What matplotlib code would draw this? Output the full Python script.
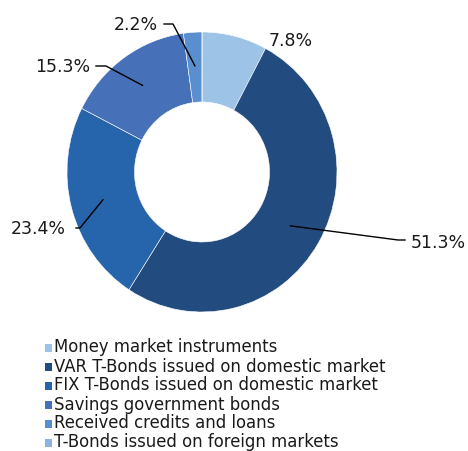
import matplotlib
matplotlib.use("Agg")
import matplotlib.pyplot as plt
from matplotlib.patches import Rectangle
import numpy as np

categories = ["Money market instruments",
              "VAR T-Bonds issued on domestic market",
              "FIX T-Bonds issued on domestic market",
              "Savings government bonds",
              "Received credits and loans",
              "T-Bonds issued on foreign markets"]
values = [7.8, 51.3, 23.4, 15.3, 2.2, 0.0]
colors = ["#9DC3E6", "#224B7F", "#2664AC", "#4670B8", "#5A8FCF", "#8DB3E2"]

W, H = 468, 452
fig = plt.figure(figsize=(W / 100, H / 100), dpi=100)
cx, cy, rx, ry = 202, 173, 135, 140
ax = fig.add_axes([(cx - rx) / W, 1 - (cy + ry) / H, 2 * rx / W, 2 * ry / H])
wedges, _ = ax.pie(values, colors=colors, startangle=90, counterclock=False,
                   radius=1.0, wedgeprops=dict(width=0.5, edgecolor="white", linewidth=0.4))
ax.set_xlim(-1, 1)
ax.set_ylim(-1, 1)
ax.set_aspect("auto")
ax.axis("off")

def px(x, y):
    return ((x - cx) / rx, (cy - y) / ry)

# label layout: (elbow px, end px, text px, ha) ; None = no leader
layout = [
    (None, None, (269, 41), "left"),
    ((398, 241), (405, 241), (411, 243), "left"),
    ((80, 229), (76, 229), (66, 229), "right"),
    ((106, 67), (96, 67), (90, 67), "right"),
    ((173, 25), (164, 25), (158, 25), "right"),
    None,
]
fs = 12.5
ang = 90.0
for i, (v, lay) in enumerate(zip(values, layout)):
    mid = ang - v * 3.6 / 2
    ang -= v * 3.6
    if lay is None:
        continue
    elbow, end, tpos, ha = lay
    tx, ty = px(*tpos)
    if elbow is not None:
        sx = 0.76 * np.cos(np.radians(mid))
        sy = 0.76 * np.sin(np.radians(mid))
        ex, ey = px(*elbow)
        fx, fy = px(*end)
        ax.plot([sx, ex, fx], [sy, ey, fy], color="black", lw=1.0, clip_on=False)
    ax.text(tx, ty, f"{v:.1f}%", ha=ha, va="center", fontsize=fs,
            family="DejaVu Sans", color="#1a1a1a", clip_on=False)

# manual legend (pixel layout)
n = len(categories)
last_baseline = 447.5
step = 19.0
for i, (lab, w) in enumerate(zip(categories, wedges)):
    base = last_baseline - step * (n - 1 - i)
    fig.add_artist(Rectangle((45 / W, 1 - base / H), 7 / W, 7.3 / H,
                             transform=fig.transFigure, facecolor=w.get_facecolor(),
                             edgecolor="none"))
    fig.text(54 / W, 1 - base / H, lab, ha="left", va="baseline", fontsize=11.9,
             family="DejaVu Sans", color="#1a1a1a")

fig.savefig("out.png", dpi=100)
